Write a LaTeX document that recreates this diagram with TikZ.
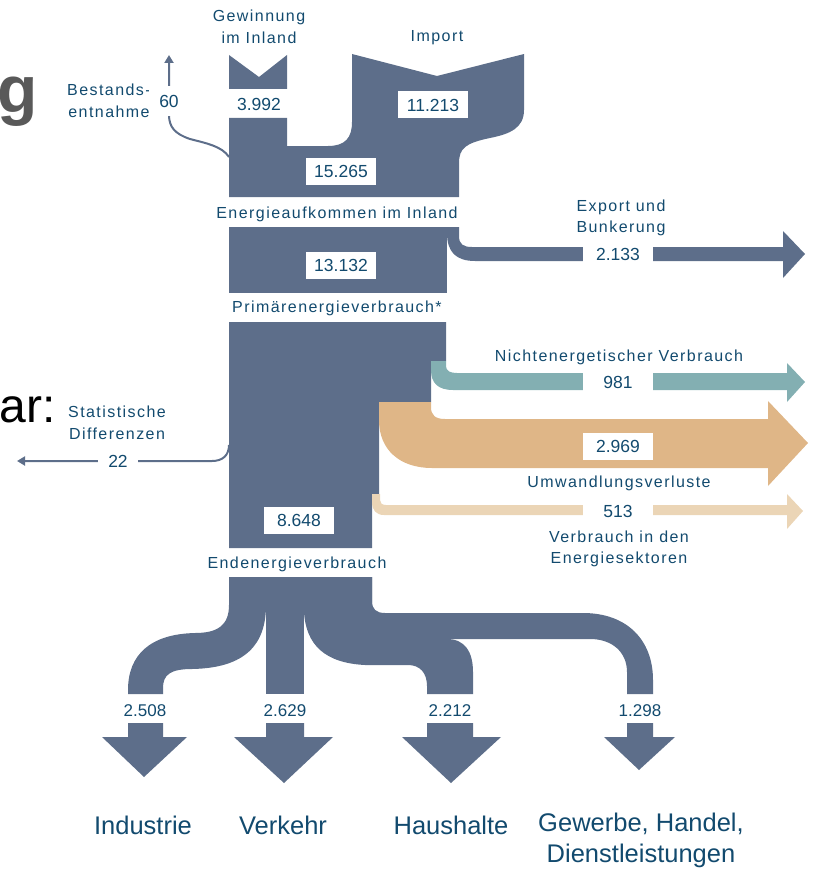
\documentclass[tikz,border=0pt]{standalone}
\usepackage{fontspec}
\setmainfont{Liberation Sans}
\newfontfamily\lblfont[LetterSpace=9]{Liberation Sans}
\usetikzlibrary{arrows.meta}

\definecolor{flowblue}{HTML}{5D6E8A}
\definecolor{flowteal}{HTML}{83AFB2}
\definecolor{floworange}{HTML}{DFB687}
\definecolor{flowbeige}{HTML}{EBD5B6}
\definecolor{txtblue}{HTML}{124A6E}
\definecolor{titlegrey}{HTML}{595959}

\begin{document}
\begin{tikzpicture}[
    x=1pt, y=-1pt,
    >={Triangle[width=9pt,length=8pt]},
    lbl/.style={text=txtblue, font=\lblfont\fontsize{16}{21.5}\selectfont, align=center, inner sep=0pt},
    num/.style={text=txtblue, fill=white, font=\fontsize{17.5}{20}\selectfont, minimum width=70pt, minimum height=27pt, inner sep=0pt},
    gapnum/.style={text=txtblue, fill=white, font=\fontsize{17.5}{20}\selectfont, inner xsep=10pt, inner ysep=9pt},
    smallnum/.style={text=txtblue, font=\fontsize{17}{20}\selectfont, inner sep=0pt},
    sector/.style={text=txtblue, font=\fontsize{25.5}{31}\selectfont, align=center, inner sep=0pt},
    thinflow/.style={flowblue, line width=2pt}
]
\useasboundingbox (0,0) rectangle (813,872);

% Title fragments cut off at the left edge
\node[anchor=base east, inner sep=0pt, text=titlegrey, font=\bfseries\fontsize{66}{70}\selectfont] (titleg) at (38,113) {g};
\node[anchor=base east, inner sep=0pt, font=\fontsize{48}{52}\selectfont] (titlebar) at (56,422) {bar:};

% Gewinnung im Inland
\fill[flowblue] (229,55) -- (259,77) -- (287,55) -- (287,89) -- (229,89) -- cycle;

% Import joining the domestic production
\fill[flowblue] (229,118) -- (287,118) -- (287,146) -- (328,146)
    .. controls (345,146) and (352,138) .. (352,122) -- (352,54) -- (437,76) -- (524,54)
    -- (524,110) .. controls (524,128) and (510,134) .. (490,138)
    .. controls (466,143) and (459,148) .. (459,163) -- (459,197) -- (229,197) -- cycle;

% Primary energy block
\fill[flowblue] (229,227) rectangle (447,293);

% Export und Bunkerung
\fill[flowblue] (447,227) -- (459,227) -- (459,236) .. controls (459,244) and (463,247) .. (472,247)
    -- (783,247) -- (783,231) -- (805,254) -- (783,278) -- (783,261) -- (475,261)
    .. controls (456,261) and (447,252) .. (447,233) -- cycle;

% Block after Primaerenergieverbrauch
\fill[flowblue] (229,322) -- (446,322) -- (446,361) -- (431,361) -- (431,402) -- (379,402)
    -- (379,494) -- (372,494) -- (372,548) -- (229,548) -- cycle;

% Nichtenergetischer Verbrauch
\fill[flowteal] (431,361) -- (446,361) -- (446,366) .. controls (446,371) and (450,373) .. (457,373)
    -- (787,373) -- (787,363) -- (805,382) -- (787,402) -- (787,390) -- (453,390)
    .. controls (438,390) and (431,383) .. (431,370) -- cycle;

% Umwandlungsverluste
\fill[floworange] (379,402) -- (431,402) -- (431,407) .. controls (431,415) and (435,419) .. (445,419)
    -- (768,419) -- (768,401) -- (808,443) -- (768,486) -- (768,468) -- (432,468)
    .. controls (400,468) and (379,450) .. (379,420) -- cycle;

% Verbrauch in den Energiesektoren
\fill[flowbeige] (372,494) -- (380,494) -- (380,500) .. controls (380,503) and (382,505) .. (386,505)
    -- (787,505) -- (787,494) -- (803,511) -- (787,529) -- (787,515) -- (384,515)
    .. controls (376,515) and (372,510) .. (372,502) -- cycle;

% Bestandsentnahme and statistische Differenzen
\coordinate (bestandstart) at (229,157);
\coordinate (bestandend) at (169,55);
\coordinate (diffstart) at (229,445);
\coordinate (diffend) at (17,461);
\draw[thinflow, ->] (bestandstart) .. controls (222,146) and (205,143) .. (190,139)
    .. controls (175,134) and (169,127) .. (169,115) -- (bestandend);
\draw[thinflow, ->] (diffstart) .. controls (229,455) and (223,461) .. (212,461) -- (diffend);

% Endenergieverbrauch block and sectors
\fill[flowblue] (229,577) rectangle (372,612);
\fill[flowblue] (229,577) -- (229,605) .. controls (229,625) and (218,633) .. (195,633)
    .. controls (150,634) and (128,655) .. (128,690) -- (128,694) -- (163,694) -- (163,688)
    .. controls (163,675) and (170,669) .. (192,669) .. controls (245,668) and (266,645) .. (266,605)
    -- (266,577) -- cycle;
\fill[flowblue] (266,577) rectangle (304,694);
\fill[flowblue] (304,577) -- (304,612) .. controls (306,645) and (325,663) .. (365,665) -- (408,665)
    .. controls (420,665) and (427,673) .. (427,686) -- (427,694) -- (473,694) -- (473,672)
    .. controls (473,652) and (465,639) .. (447,639) -- (372,639) -- (372,577) -- cycle;
\fill[flowblue] (372,577) -- (372,601) .. controls (372,609) and (376,613) .. (385,613) -- (583,613)
    .. controls (627,613) and (653,640) .. (653,680) -- (653,694) -- (627,694) -- (627,672)
    .. controls (627,652) and (612,639) .. (590,639) -- (372,639) -- cycle;

% Sector arrows
\foreach \xl/\xr/\hl/\hr/\xt/\yt in {128/163/102/187/144/777, 266/304/234/333/284/783,
    427/473/402/501/451/783, 627/653/604/675/639/770}
    \fill[flowblue] (\xl,723) -- (\xr,723) -- (\xr,737) -- (\hr,737) -- (\xt,\yt) -- (\hl,737) -- (\xl,737) -- cycle;

% Labels
\node[lbl] (gewinnung) at (259,27) {Gewinnung\\im Inland};
\node[lbl] (import) at (437,38) {Import};
\node[lbl] (bestand) at (109,101) {Bestands-\\entnahme};
\node[gapnum] (bestandval) at (169,101) {60};
\node[num, fill=none] (gewinnungval) at (259,104) {3.992};
\node[num] (importval) at (433,105) {11.213};
\node[num] (aufkommenval) at (341,171) {15.265};
\node[lbl] (aufkommen) at (337,214) {Energieaufkommen im Inland};
\node[lbl] (export) at (621,218) {Export und\\Bunkerung};
\node[num] (exportval) at (618,254) {2.133};
\node[num] (primval) at (341,265) {13.132};
\node[lbl] (prim) at (337,308) {Primärenergieverbrauch*};
\node[lbl] (nichtenerg) at (619,357) {Nichtenergetischer Verbrauch};
\node[num] (nichtenergval) at (618,382) {981};
\node[lbl] (statdiff) at (117,423) {Statistische\\Differenzen};
\node[gapnum] (statdiffval) at (118,461) {22};
\node[num] (umwval) at (618,446) {2.969};
\node[lbl] (umw) at (619,483) {Umwandlungsverluste};
\node[num] (sektorval) at (618,511) {513};
\node[num] (endval) at (299,520) {8.648};
\node[lbl] (sektor) at (619,549) {Verbrauch in den\\Energiesektoren};
\node[lbl] (end) at (297,564) {Endenergieverbrauch};

% Sector values and names
\node[smallnum] (indval) at (145,711) {2.508};
\node[smallnum] (verkval) at (285,711) {2.629};
\node[smallnum] (hhval) at (450,711) {2.212};
\node[smallnum] (ghdval) at (640,711) {1.298};
\node[sector] (ind) at (143,825) {Industrie};
\node[sector] (verk) at (283,825) {Verkehr};
\node[sector] (hh) at (451,825) {Haushalte};
\node[sector] (ghd) at (641,840) {Gewerbe, Handel,\\Dienstleistungen};

\end{tikzpicture}
\end{document}
